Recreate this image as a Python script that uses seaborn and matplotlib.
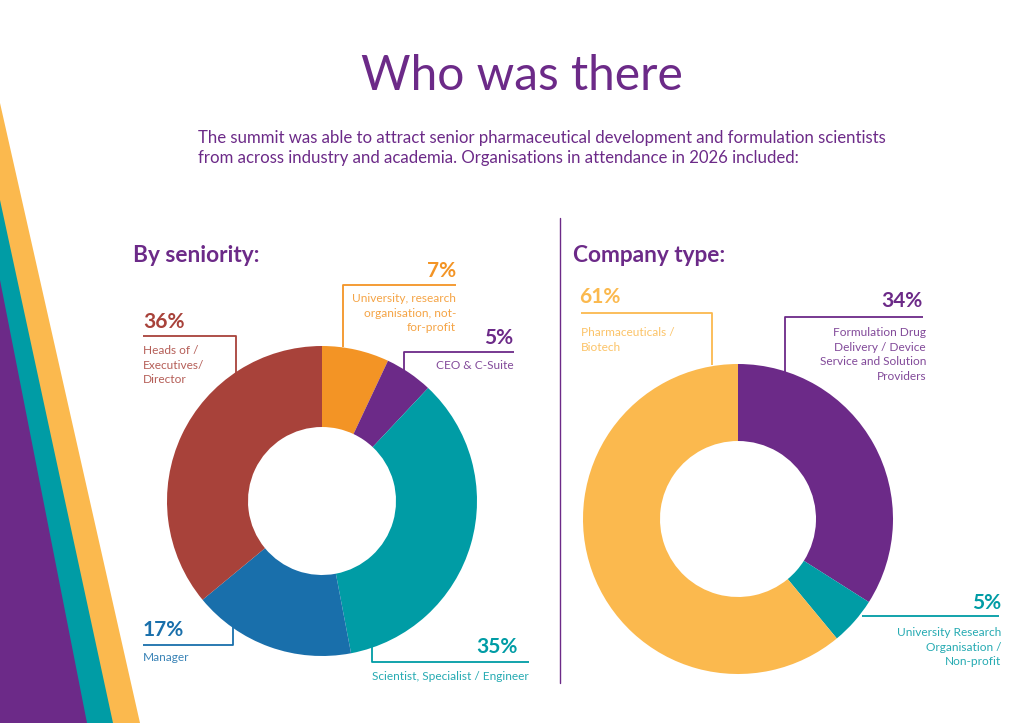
import matplotlib
matplotlib.use("Agg")
import matplotlib.pyplot as plt
import seaborn as sns

# datos de las dos donas
seniority_labels = ["University, research\norganisation, not-\nfor-profit", "CEO & C-Suite",
                    "Scientist, Specialist / Engineer", "Manager", "Heads of /\nExecutives/\nDirector"]
seniority_values = [7, 5, 35, 17, 36]
company_labels = ["Formulation Drug\nDelivery / Device\nService and Solution\nProviders",
                  "University Research\nOrganisation /\nNon-profit", "Pharmaceuticals /\nBiotech"]
company_values = [34, 5, 61]

PURPLE = "#6c2a88"
TEAL = "#009ca5"
YELLOW = "#fbb94e"
seniority_colors = ["#f39425", PURPLE, TEAL, "#196fab", "#a8423a"]
company_colors = [PURPLE, TEAL, YELLOW]

sns.set_theme(style="white")
plt.rcParams['font.family'] = ['Lato', 'DejaVu Sans']

fig = plt.figure(figsize=(10.24, 7.23), dpi=100)
ax = fig.add_axes([0, 0, 1, 1])

# dona 1 (antiguedad) y dona 2 (tipo de empresa), coordenadas en pixeles, eje y invertido
ax.pie(seniority_values, colors=seniority_colors, startangle=-90, counterclock=True,
       radius=155, center=(322, 501), wedgeprops=dict(width=81, linewidth=0))
ax.pie(company_values, colors=company_colors, startangle=-90, counterclock=True,
       radius=155, center=(738, 519), wedgeprops=dict(width=77, linewidth=0))
ax.set_xlim(0, 1024)
ax.set_ylim(723, 0)
ax.set_aspect("auto")
ax.axis("off")

# franjas decorativas a la izquierda
ax.fill([0, 140, 0], [103, 723, 723], color=YELLOW, lw=0)
ax.fill([0, 113, 0], [200, 723, 723], color=TEAL, lw=0)
ax.fill([0, 87, 0], [280, 723, 723], color=PURPLE, lw=0)

# titulos
ax.text(522, 76, "Who was there", ha="center", va="center", fontsize=34.5,
        fontweight="normal", color=PURPLE)
ax.text(198, 148, "The summit was able to attract senior pharmaceutical development and formulation scientists\n"
        "from across industry and academia. Organisations in attendance in 2026 included:",
        ha="left", va="center", fontsize=12.1, color=PURPLE, linespacing=1.3)
ax.text(133, 256, "By seniority:", ha="left", va="center", fontsize=16.3, fontweight="bold", color=PURPLE)
ax.text(573, 256, "Company type:", ha="left", va="center", fontsize=16.3, fontweight="bold", color=PURPLE)
ax.plot([560, 560], [218, 683], color=PURPLE, lw=1)


def etiqueta(pct, texto, color, xs, ys, px, py, ha, tx, ty):
    ax.plot(xs, ys, color=color, lw=1.3, solid_capstyle="butt")
    ax.text(px, py, pct, ha=ha, va="center", fontsize=15, fontweight="bold", color=color)
    ax.text(tx, ty, texto, ha=ha, va="top", fontsize=8.6, color=color, alpha=0.85, linespacing=1.4)


# etiquetas dona 1
etiqueta(f"{seniority_values[0]}%", seniority_labels[0], seniority_colors[0],
         [343, 343, 456], [347, 285, 285], 456, 271, "right", 456, 293)
etiqueta(f"{seniority_values[1]}%", seniority_labels[1], seniority_colors[1],
         [404, 404, 514], [378, 352, 352], 513, 338, "right", 514, 360)
etiqueta(f"{seniority_values[2]}%", seniority_labels[2], seniority_colors[2],
         [372, 372, 529], [640, 662, 662], 518, 647, "right", 529, 671)
etiqueta(f"{seniority_values[3]}%", seniority_labels[3], seniority_colors[3],
         [233, 233, 143], [625, 645, 645], 143, 630, "left", 143, 652)
etiqueta(f"{seniority_values[4]}%", seniority_labels[4], seniority_colors[4],
         [236, 236, 143], [375, 336, 336], 143, 322, "left", 143, 345)

# etiquetas dona 2
etiqueta(f"{company_values[0]}%", company_labels[0], company_colors[0],
         [785, 785, 923], [372, 317, 317], 923, 301, "right", 926, 327)
etiqueta(f"{company_values[1]}%", company_labels[1], company_colors[1],
         [862, 999], [616, 616], 1001, 603, "right", 1001, 627)
etiqueta(f"{company_values[2]}%", company_labels[2], company_colors[2],
         [712, 712, 581], [365, 313, 313], 579, 297, "left", 581, 327)

fig.savefig("out.png", dpi=100, facecolor="white")
